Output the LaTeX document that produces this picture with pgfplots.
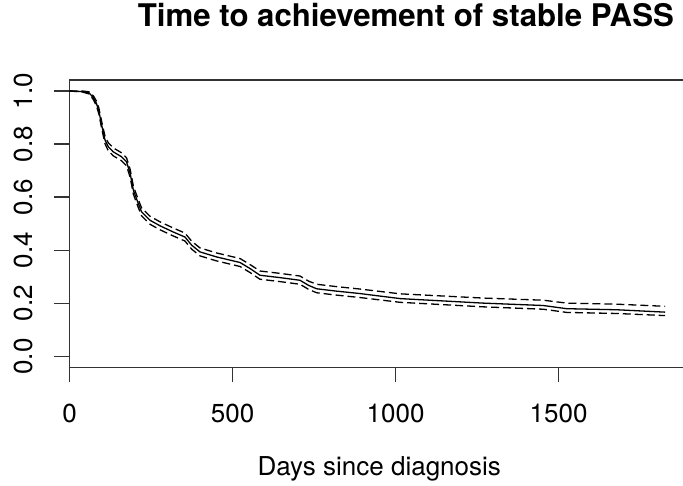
\documentclass[border=0pt]{standalone}
\usepackage{pgfplots}
\pgfplotsset{compat=1.18}
\usepackage{pgfplotstable}
\usepackage{fontspec}
\setmainfont{TeX Gyre Heros}
\pgfplotstableread{
t S lo hi
0 1.000 1.000 1.000
40 0.998 0.996 1.000
60 0.993 0.989 0.997
73 0.975 0.968 0.982
82 0.955 0.946 0.964
90 0.925 0.914 0.936
99 0.870 0.857 0.883
109 0.815 0.801 0.829
119 0.790 0.775 0.805
134 0.771 0.756 0.786
160 0.752 0.737 0.767
175 0.733 0.718 0.748
186 0.690 0.675 0.705
196 0.626 0.611 0.641
211 0.576 0.561 0.591
221 0.545 0.530 0.560
247 0.513 0.498 0.528
278 0.492 0.477 0.507
318 0.469 0.454 0.484
354 0.450 0.435 0.465
375 0.419 0.404 0.434
400 0.394 0.379 0.409
451 0.375 0.360 0.390
523 0.354 0.339 0.369
554 0.331 0.316 0.346
584 0.306 0.291 0.322
646 0.297 0.282 0.313
707 0.287 0.272 0.303
733 0.268 0.253 0.284
758 0.255 0.240 0.272
820 0.246 0.231 0.263
891 0.237 0.222 0.254
1014 0.218 0.204 0.236
1269 0.201 0.187 0.220
1453 0.192 0.178 0.212
1525 0.180 0.166 0.201
1678 0.176 0.162 0.197
1827 0.167 0.154 0.189
}\kmdata
\begin{document}
\fontsize{26}{30}\selectfont
\begin{tikzpicture}
\begin{axis}[
  at={(69.5pt,118.5pt)}, anchor=south west,
  scale only axis, width=619.5pt, height=287.5pt,
  xmin=0, xmax=1900, ymin=-0.0415, ymax=1.0415,
  axis x line=box, axis y line=left,
  axis line style={-, line width=1.4pt, black!80},
  xtick={0,500,1000,1500}, ytick={0,0.2,0.4,0.6,0.8,1.0},
  xtick pos=bottom, ytick pos=left,
  tick align=outside, major tick length=15pt,
  tick style={line width=1.4pt, black!80},
  /pgf/number format/assume math mode=true,
  x tick label style={/pgf/number format/1000 sep={}},
  y tick label style={/pgf/number format/.cd, fixed, fixed zerofill, precision=1, /tikz/.cd, rotate=90, anchor=base},
  yticklabel shift=22pt,
  xticklabel shift=13pt,
  tick label style={font=\fontsize{26}{30}\selectfont},
  title={\bfseries Time to achievement of stable PASS},
  title style={font=\fontsize{31.2}{36}\selectfont, at={(axis description cs:0.543,1.1645)}, anchor=base, yshift=0pt},
  xlabel={Days since diagnosis},
  xlabel style={font=\fontsize{26}{30}\selectfont, at={(axis description cs:0.5,-0.377)}, anchor=base},
  clip=false,
]
\addplot[black, line width=1.3pt] table[x=t, y=S] {\kmdata};
\addplot[black, line width=1.3pt, dash pattern=on 8pt off 4pt] table[x=t, y=lo] {\kmdata};
\addplot[black, line width=1.3pt, dash pattern=on 8pt off 4pt] table[x=t, y=hi] {\kmdata};
\end{axis}
\pgfresetboundingbox
\path[use as bounding box] (0,0) rectangle (683pt,486pt);
\end{tikzpicture}
\end{document}
